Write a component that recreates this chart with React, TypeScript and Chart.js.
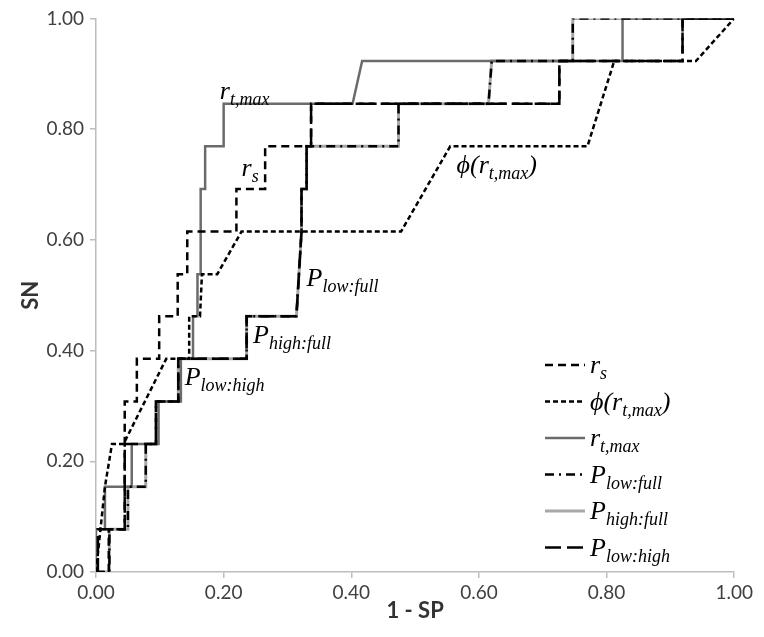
import React, { useEffect, useRef } from "react";
import { Chart, registerables } from "chart.js";
Chart.register(...registerables);

// ---- data (x = 1 - SP, y = SN) ----
const rsX = [0, 0.02, 0.02, 0.045, 0.045, 0.064, 0.064, 0.099, 0.099, 0.128, 0.128, 0.143, 0.143, 0.22, 0.22, 0.265, 0.265, 0.337, 0.337, 0.726, 0.726, 0.919, 0.919, 1];
const rsY = [0, 0, 0.077, 0.077, 0.308, 0.308, 0.385, 0.385, 0.462, 0.462, 0.538, 0.538, 0.615, 0.615, 0.692, 0.692, 0.769, 0.769, 0.846, 0.846, 0.923, 0.923, 1, 1];

const phiX = [0, 0.014, 0.025, 0.043, 0.11, 0.146, 0.146, 0.163, 0.166, 0.19, 0.228, 0.478, 0.555, 0.77, 0.812, 0.94, 1];
const phiY = [0, 0.154, 0.231, 0.231, 0.385, 0.385, 0.462, 0.462, 0.538, 0.538, 0.615, 0.615, 0.769, 0.769, 0.923, 0.923, 1];

const rtX = [0, 0, 0.014, 0.014, 0.056, 0.056, 0.098, 0.098, 0.133, 0.133, 0.152, 0.152, 0.159, 0.159, 0.164, 0.164, 0.171, 0.171, 0.2, 0.2, 0.402, 0.417, 0.825, 0.825, 1];
const rtY = [0, 0.077, 0.077, 0.154, 0.154, 0.231, 0.231, 0.308, 0.308, 0.385, 0.385, 0.462, 0.462, 0.538, 0.538, 0.692, 0.692, 0.769, 0.769, 0.846, 0.846, 0.923, 0.923, 1, 1];

const plfX = [0, 0.021, 0.021, 0.05, 0.05, 0.078, 0.078, 0.094, 0.094, 0.129, 0.129, 0.236, 0.236, 0.314, 0.322, 0.322, 0.33, 0.33, 0.474, 0.474, 0.615, 0.62, 0.747, 0.747, 1];
const plfY = [0, 0, 0.077, 0.077, 0.154, 0.154, 0.231, 0.231, 0.308, 0.308, 0.385, 0.385, 0.462, 0.462, 0.615, 0.692, 0.692, 0.769, 0.769, 0.846, 0.846, 0.923, 0.923, 1, 1];

const phfX = [0, 0.021, 0.021, 0.05, 0.05, 0.078, 0.078, 0.094, 0.094, 0.129, 0.129, 0.236, 0.236, 0.314, 0.322, 0.322, 0.33, 0.33, 0.474, 0.474, 0.615, 0.62, 0.747, 0.747, 1];
const phfY = [0, 0, 0.077, 0.077, 0.154, 0.154, 0.231, 0.231, 0.308, 0.308, 0.385, 0.385, 0.462, 0.462, 0.615, 0.692, 0.692, 0.769, 0.769, 0.846, 0.846, 0.923, 0.923, 1, 1];

const plhX = [0, 0.003, 0.003, 0.045, 0.045, 0.094, 0.094, 0.129, 0.129, 0.236, 0.236, 0.314, 0.322, 0.322, 0.33, 0.33, 0.337, 0.337, 0.726, 0.726, 0.919, 0.919, 1];
const plhY = [0, 0, 0.077, 0.077, 0.231, 0.231, 0.308, 0.308, 0.385, 0.385, 0.462, 0.462, 0.615, 0.692, 0.692, 0.769, 0.769, 0.846, 0.846, 0.923, 0.923, 1, 1];

const tickValues = [0, 0.2, 0.4, 0.6, 0.8, 1];

type Part = { t: string; sub?: boolean };
const lblRs: Part[] = [{ t: "r" }, { t: "s", sub: true }];
const lblPhi: Part[] = [{ t: "ϕ(r" }, { t: "t,max", sub: true }, { t: ")" }];
const lblRt: Part[] = [{ t: "r" }, { t: "t,max", sub: true }];
const lblPlf: Part[] = [{ t: "P" }, { t: "low:full", sub: true }];
const lblPhf: Part[] = [{ t: "P" }, { t: "high:full", sub: true }];
const lblPlh: Part[] = [{ t: "P" }, { t: "low:high", sub: true }];

// in-plot annotations (anchored in data units)
const annotations: { at: [number, number]; parts: Part[] }[] = [
  { at: [0.194, 0.854], parts: lblRt },
  { at: [0.228, 0.715], parts: lblRs },
  { at: [0.565, 0.72], parts: lblPhi },
  { at: [0.33, 0.517], parts: lblPlf },
  { at: [0.246, 0.414], parts: lblPhf },
  { at: [0.139, 0.337], parts: lblPlh },
];

const SERIF = '"Liberation Serif", "DejaVu Serif", serif';

function drawRich(ctx: CanvasRenderingContext2D, x: number, y: number, parts: Part[]) {
  let cx = x;
  for (const p of parts) {
    if (p.sub) {
      ctx.font = `italic 18px ${SERIF}`;
      ctx.fillText(p.t, cx, y + 6);
    } else {
      ctx.font = `italic 26px ${SERIF}`;
      ctx.fillText(p.t, cx, y);
    }
    cx += ctx.measureText(p.t).width;
  }
}

const legendItems: { parts: Part[]; color: string; width: number; dash: number[] }[] = [
  { parts: lblRs, color: "#000", width: 2.5, dash: [8, 5] },
  { parts: lblPhi, color: "#000", width: 2.5, dash: [5, 3] },
  { parts: lblRt, color: "#6b6b6b", width: 2.5, dash: [] },
  { parts: lblPlf, color: "#000", width: 2.5, dash: [9, 5, 2, 5] },
  { parts: lblPhf, color: "#a8a8a8", width: 3, dash: [] },
  { parts: lblPlh, color: "#000", width: 2.5, dash: [16, 6] },
];

const SHIFT = 7; // canvas is pulled up by this much

const overlayPlugin = {
  id: "overlay",
  afterDatasetsDraw(chart: any) {
    const ctx: CanvasRenderingContext2D = chart.ctx;
    const xs = chart.scales.x;
    const ys = chart.scales.y;
    ctx.save();
    ctx.fillStyle = "#000";
    ctx.textBaseline = "alphabetic";
    ctx.textAlign = "left";
    for (const a of annotations) {
      drawRich(ctx, xs.getPixelForValue(a.at[0]), ys.getPixelForValue(a.at[1]), a.parts);
    }
    // legend
    const lx0 = 537, lx1 = 577, tx = 582, y0 = 357 + SHIFT, dy = 36.5;
    legendItems.forEach((it, i) => {
      const y = y0 + i * dy;
      ctx.beginPath();
      ctx.setLineDash(it.dash);
      ctx.lineWidth = it.width;
      ctx.strokeStyle = it.color;
      ctx.moveTo(lx0, y);
      ctx.lineTo(lx1, y);
      ctx.stroke();
      ctx.setLineDash([]);
      drawRich(ctx, tx, y + 8, it.parts);
    });
    ctx.restore();
  },
};

const mk = (label: string, xs: number[], ys: number[], color: string, width: number, dash: number[], order: number) => ({
  label,
  data: xs.map((x, i) => ({ x, y: ys[i] })),
  borderColor: color,
  backgroundColor: color,
  borderWidth: width,
  borderDash: dash,
  pointRadius: 0,
  showLine: true,
  fill: false,
  tension: 0,
  order,
});

export default function App() {
  const ref = useRef<HTMLCanvasElement>(null);
  useEffect(() => {
    if (!ref.current) return;
    const axisColor = "#bdbdbd";
    const tickFont = { family: "Lato", size: 19 };
    const chart = new Chart(ref.current, {
      type: "scatter",
      data: {
        datasets: [
          mk("r_s", rsX, rsY, "#000", 2.5, [8, 5], 0),
          mk("phi(r_t,max)", phiX, phiY, "#000", 2.5, [5, 3], 1),
          mk("P_low:high", plhX, plhY, "#000", 2.5, [16, 6], 2),
          mk("P_low:full", plfX, plfY, "#000", 2.5, [9, 5, 2, 5], 3),
          mk("r_t,max", rtX, rtY, "#6b6b6b", 2.5, [], 4),
          mk("P_high:full", phfX, phfY, "#a8a8a8", 3, [], 5),
        ] as any,
      },
      options: {
        animation: false,
        responsive: false,
        layout: { padding: { top: 2, right: 21, bottom: 0, left: 0 } },
        plugins: { legend: { display: false }, tooltip: { enabled: false } },
        scales: {
          x: {
            type: "linear",
            min: 0,
            max: 1,
            afterBuildTicks: (s: any) => { s.ticks = tickValues.map((v) => ({ value: v })); },
            afterFit: (s: any) => { s.height = 57; },
            ticks: { callback: (v: any) => Number(v).toFixed(2), font: tickFont, color: "#404040", padding: 3, maxRotation: 0 },
            grid: { display: true, drawOnChartArea: false, drawTicks: true, tickLength: 6, color: axisColor, lineWidth: 1.5 },
            border: { display: true, color: axisColor, width: 1.5 },
            title: { display: true, text: "1 - SP", font: { family: "Lato", size: 22, weight: "bold" }, color: "#333", padding: { top: 0, bottom: 5 } },
          },
          y: {
            type: "linear",
            min: 0,
            max: 1,
            afterBuildTicks: (s: any) => { s.ticks = tickValues.map((v) => ({ value: v })); },
            afterFit: (s: any) => { s.width = 88; },
            ticks: { callback: (v: any) => Number(v).toFixed(2), font: tickFont, color: "#404040", padding: 6 },
            grid: { display: true, drawOnChartArea: false, drawTicks: true, tickLength: 6, color: axisColor, lineWidth: 1.5 },
            border: { display: true, color: axisColor, width: 1.5 },
            title: { display: true, text: "SN", font: { family: "Lato", size: 22, weight: "bold" }, color: "#333", padding: { top: 10, bottom: 0 } },
          },
        },
      } as any,
      plugins: [overlayPlugin],
    });
    return () => chart.destroy();
  }, []);
  return <canvas ref={ref} width={748} height={621 + SHIFT} style={{ display: "block", marginTop: -SHIFT }} />;
}
